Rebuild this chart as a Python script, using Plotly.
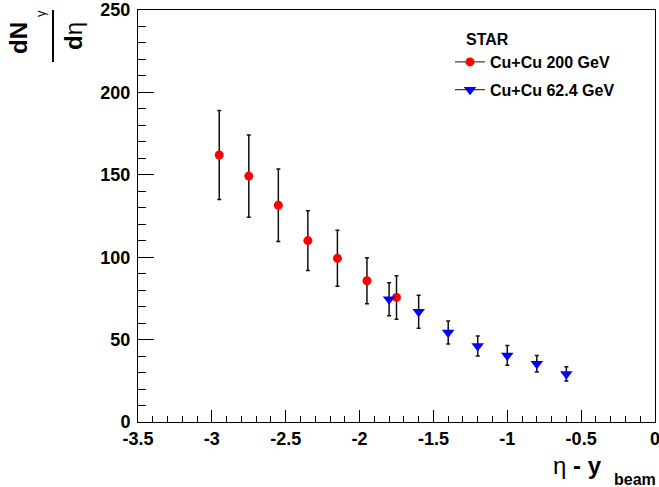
import plotly.graph_objects as go

# ---- data ----
eta_200 = [-2.95, -2.75, -2.55, -2.35, -2.15, -1.95, -1.75]
dndeta_200 = [162.0, 149.2, 131.5, 110.1, 99.3, 85.7, 75.6]
err_200 = [27.0, 25.0, 22.0, 18.1, 17.0, 14.0, 13.2]

eta_62 = [-1.8, -1.6, -1.4, -1.2, -1.0, -0.8, -0.6]
dndeta_62 = [74.5, 66.9, 54.3, 46.1, 40.4, 35.3, 29.2]
err_62 = [10.0, 10.0, 7.0, 6.1, 6.0, 5.0, 4.3]

x_tickvals = [-3.5, -3.0, -2.5, -2.0, -1.5, -1.0, -0.5, 0.0]
x_ticktext = ["-3.5", "-3", "-2.5", "-2", "-1.5", "-1", "-0.5", "0"]
y_tickvals = [0, 50, 100, 150, 200, 250]
y_ticktext = ["0", "50", "100", "150", "200", "250"]

names = ["Cu+Cu 200 GeV", "Cu+Cu 62.4 GeV"]

FONT = "Liberation Sans, Arial, Helvetica, sans-serif"

fig = go.Figure()

# data traces (no legend)
fig.add_trace(go.Scatter(
    x=eta_200, y=dndeta_200, mode="markers", showlegend=False,
    marker=dict(symbol="circle", size=9, color="#ff0000"),
    error_y=dict(type="data", array=err_200, color="#111111", thickness=1.5, width=2),
))
fig.add_trace(go.Scatter(
    x=eta_62, y=dndeta_62, mode="markers", showlegend=False,
    marker=dict(symbol="triangle-down", size=11, color="#0000ff"),
    error_y=dict(type="data", array=err_62, color="#111111", thickness=1.5, width=2),
))

# legend-only entries (line through marker like ROOT "lp")
fig.add_trace(go.Scatter(
    x=[None], y=[None], mode="lines+markers", name=names[0], legendgroup="a",
    marker=dict(symbol="circle", size=9, color="#ff0000"),
    line=dict(color="#111111", width=1),
))
fig.add_trace(go.Scatter(
    x=[None], y=[None], mode="lines+markers", name=names[1], legendgroup="b",
    marker=dict(symbol="triangle-down", size=11, color="#0000ff"),
    line=dict(color="#111111", width=1),
))

L, R, T, B = 138, 4, 10, 65
W, H = 659, 487
PW = W - L - R
PH = H - T - B


def px(xp):
    return (xp - L) / PW


def py(yp):
    return (H - B - yp) / PH


axis_common = dict(
    showgrid=False, zeroline=False, showline=True, linecolor="black", linewidth=1,
    mirror=True, ticks="inside", tickcolor="black", tickwidth=1, automargin=False,
    tickfont=dict(family=FONT, size=18, color="black", weight="bold"),
    tickmode="array", ticklabeloverflow="allow",
)

fig.update_layout(
    width=W, height=H,
    margin=dict(l=L, r=R, t=T, b=B, autoexpand=False),
    paper_bgcolor="white", plot_bgcolor="white",
    font=dict(family=FONT, color="black"),
    xaxis=dict(
        range=[-3.5, 0], tickvals=x_tickvals, ticktext=x_ticktext, ticklen=12,
        minor=dict(dtick=0.1, ticklen=6, ticks="inside", tickcolor="black", tickwidth=1, showgrid=False),
        **axis_common,
    ),
    yaxis=dict(
        range=[0, 250], tickvals=y_tickvals, ticktext=y_ticktext, ticklen=16,
        ticklabelstandoff=3,
        minor=dict(dtick=10, ticklen=8, ticks="inside", tickcolor="black", tickwidth=1, showgrid=False),
        **axis_common,
    ),
    legend=dict(
        x=px(450), y=py(45), xanchor="left", yanchor="top",
        bgcolor="rgba(255,255,255,0)", borderwidth=0,
        font=dict(family=FONT, size=16, color="black", weight="bold"),
        tracegroupgap=4,
    ),
    showlegend=True,
)

ann = []
# legend header
ann.append(dict(text="<b>STAR</b>", x=px(464), y=py(40), xref="paper", yref="paper",
                xanchor="left", yanchor="middle", showarrow=False,
                font=dict(family=FONT, size=16, color="black")))
# y-axis title as rotated fraction dN_gamma / d eta
ann.append(dict(text="<b>dN</b>", x=px(19), y=py(38), xref="paper", yref="paper",
                xanchor="center", yanchor="middle", textangle=-90, showarrow=False,
                font=dict(family=FONT, size=24, color="black")))
ann.append(dict(text="γ", x=px(41), y=py(14), xref="paper", yref="paper",
                xanchor="center", yanchor="middle", textangle=-90, showarrow=False,
                font=dict(family=FONT, size=13, color="black")))
ann.append(dict(text="<b>d</b>η", x=px(74), y=py(36), xref="paper", yref="paper",
                xanchor="center", yanchor="middle", textangle=-90, showarrow=False,
                font=dict(family=FONT, size=24, color="black")))
# x-axis title
ann.append(dict(text="η <b>- y</b>", x=px(604), y=py(465), xref="paper", yref="paper",
                xanchor="right", yanchor="middle", showarrow=False,
                font=dict(family=FONT, size=24, color="black")))
ann.append(dict(text="<b>beam</b>", x=px(612), y=py(479), xref="paper", yref="paper",
                xanchor="left", yanchor="middle", showarrow=False,
                font=dict(family=FONT, size=16, color="black")))
fig.update_layout(annotations=ann)

fig.add_shape(type="line", xref="paper", yref="paper",
              x0=px(53), x1=px(53), y0=py(10), y1=py(62),
              line=dict(color="black", width=2))

fig.write_html("out.html")
